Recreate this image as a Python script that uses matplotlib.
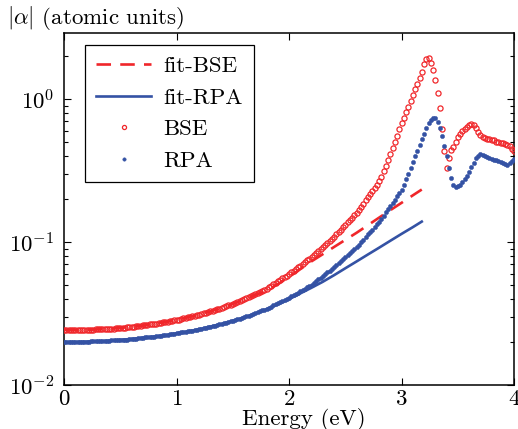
import numpy as np
import matplotlib
matplotlib.use("Agg")
import matplotlib.pyplot as plt

plt.rcParams['font.family'] = ['cmr10', 'DejaVu Serif']
plt.rcParams['mathtext.fontset'] = 'cm'
plt.rcParams['axes.formatter.use_mathtext'] = True

# sampling grid of the computed spectra (0.02 eV steps, 0..4 eV)
energy = np.linspace(0.0, 4.0, 201)

bse = [
    0.0242, 0.0242, 0.0242, 0.0242, 0.0242, 0.0242, 0.0243, 0.0243, 0.0243, 0.0243,
    0.0243, 0.0243, 0.0244, 0.0244, 0.0245, 0.0245, 0.0245, 0.0246, 0.0246, 0.0247,
    0.0247, 0.0248, 0.0248, 0.0249, 0.0250, 0.0251, 0.0252, 0.0252, 0.0253, 0.0254,
    0.0255, 0.0256, 0.0257, 0.0259, 0.0260, 0.0261, 0.0262, 0.0263, 0.0265, 0.0266,
    0.0267, 0.0269, 0.0271, 0.0272, 0.0274, 0.0276, 0.0278, 0.0280, 0.0282, 0.0283,
    0.0285, 0.0287, 0.0290, 0.0292, 0.0295, 0.0297, 0.0300, 0.0302, 0.0305, 0.0307,
    0.0310, 0.0313, 0.0317, 0.0320, 0.0324, 0.0327, 0.0331, 0.0334, 0.0338, 0.0341,
    0.0345, 0.0350, 0.0355, 0.0360, 0.0365, 0.0370, 0.0376, 0.0381, 0.0387, 0.0392,
    0.0398, 0.0405, 0.0412, 0.0419, 0.0426, 0.0434, 0.0441, 0.0449, 0.0457, 0.0465,
    0.0473, 0.0484, 0.0495, 0.0507, 0.0519, 0.0531, 0.0543, 0.0556, 0.0569, 0.0582,
    0.0596, 0.0613, 0.0630, 0.0647, 0.0665, 0.0684, 0.0703, 0.0723, 0.0743, 0.0764,
    0.0785, 0.0811, 0.0838, 0.0866, 0.0894, 0.0924, 0.0954, 0.0986, 0.1018, 0.1052,
    0.108, 0.113, 0.117, 0.122, 0.127, 0.132, 0.137, 0.143, 0.148, 0.154,
    0.160, 0.168, 0.177, 0.186, 0.196, 0.206, 0.217, 0.228, 0.240, 0.252,
    0.266, 0.285, 0.313, 0.343, 0.376, 0.412, 0.452, 0.501, 0.556, 0.614,
    0.676, 0.741, 0.81, 0.88, 0.975, 1.066, 1.17, 1.28, 1.40, 1.55,
    1.76, 1.90, 1.94, 1.80, 1.60, 1.37, 1.11, 0.86, 0.62, 0.43,
    0.33, 0.39, 0.44, 0.465, 0.50, 0.54, 0.57, 0.595, 0.62, 0.64,
    0.655, 0.67, 0.66, 0.63, 0.59, 0.56, 0.545, 0.535, 0.53, 0.525,
    0.52, 0.515, 0.505, 0.50, 0.495, 0.49, 0.485, 0.48, 0.47, 0.45,
    0.43,
]

rpa = [
    0.0200, 0.0200, 0.0200, 0.0200, 0.0200, 0.0200, 0.0201, 0.0201, 0.0201, 0.0201,
    0.0201, 0.0201, 0.0202, 0.0202, 0.0202, 0.0203, 0.0203, 0.0203, 0.0204, 0.0204,
    0.0204, 0.0205, 0.0205, 0.0206, 0.0206, 0.0207, 0.0207, 0.0208, 0.0208, 0.0209,
    0.0210, 0.0211, 0.0211, 0.0212, 0.0213, 0.0214, 0.0215, 0.0215, 0.0216, 0.0217,
    0.0218, 0.0219, 0.0220, 0.0221, 0.0223, 0.0224, 0.0225, 0.0226, 0.0227, 0.0229,
    0.0230, 0.0231, 0.0233, 0.0234, 0.0236, 0.0237, 0.0239, 0.0240, 0.0242, 0.0244,
    0.0245, 0.0247, 0.0249, 0.0252, 0.0254, 0.0256, 0.0258, 0.0260, 0.0263, 0.0265,
    0.0267, 0.0270, 0.0273, 0.0276, 0.0279, 0.0282, 0.0285, 0.0288, 0.0291, 0.0295,
    0.0298, 0.0302, 0.0306, 0.0310, 0.0315, 0.0319, 0.0324, 0.0328, 0.0333, 0.0337,
    0.0342, 0.0348, 0.0354, 0.0360, 0.0367, 0.0373, 0.0380, 0.0386, 0.0393, 0.0400,
    0.0407, 0.0416, 0.0425, 0.0434, 0.0443, 0.0453, 0.0462, 0.0472, 0.0482, 0.0493,
    0.0504, 0.0518, 0.0533, 0.0549, 0.0564, 0.0581, 0.0597, 0.0614, 0.0632, 0.0650,
    0.0668, 0.0690, 0.0713, 0.0737, 0.0761, 0.0786, 0.0812, 0.0839, 0.0866, 0.0895,
    0.0923, 0.0961, 0.100, 0.104, 0.108, 0.113, 0.118, 0.122, 0.127, 0.133,
    0.138, 0.145, 0.153, 0.161, 0.170, 0.179, 0.188, 0.198, 0.209, 0.220,
    0.232, 0.251, 0.275, 0.30, 0.33, 0.363, 0.40, 0.435, 0.48, 0.525,
    0.57, 0.625, 0.675, 0.715, 0.738, 0.733, 0.69, 0.625, 0.556, 0.473,
    0.40, 0.33, 0.28, 0.25, 0.242, 0.245, 0.251, 0.261, 0.274, 0.29,
    0.311, 0.335, 0.359, 0.385, 0.403, 0.41, 0.409, 0.403, 0.394, 0.385,
    0.38, 0.376, 0.372, 0.367, 0.361, 0.355, 0.351, 0.348, 0.355, 0.367,
    0.38,
]

fit_energy = [0.0, 0.1, 0.2, 0.3, 0.4, 0.5, 0.6, 0.7, 0.8, 0.9, 1.0, 1.1, 1.2, 1.3,
              1.4, 1.5, 1.6, 1.7, 1.8, 1.9, 2.0, 2.1, 2.2, 2.3, 2.4, 2.5, 2.6, 2.7,
              2.8, 2.9, 3.0, 3.1, 3.18]
fit_bse = [0.0242, 0.0242, 0.0243, 0.0245, 0.0247, 0.0251, 0.0255, 0.0260, 0.0267,
           0.0275, 0.0285, 0.0297, 0.0310, 0.0327, 0.0345, 0.0368, 0.0396, 0.0427,
           0.0457, 0.0507, 0.0569, 0.0646, 0.0733, 0.0822, 0.0923, 0.1035, 0.116,
           0.131, 0.148, 0.167, 0.188, 0.212, 0.233]
fit_rpa = [0.0200, 0.0200, 0.0201, 0.0202, 0.0204, 0.0207, 0.0210, 0.0214, 0.0218,
           0.0223, 0.0230, 0.0237, 0.0245, 0.0256, 0.0267, 0.0281, 0.0297, 0.0316,
           0.0339, 0.0366, 0.0398, 0.0437, 0.0479, 0.0527, 0.0586, 0.0655, 0.0731,
           0.0817, 0.0912, 0.102, 0.114, 0.127, 0.139]

red = '#f0262a'
blue = '#3452a4'
fs = 16.5

fig = plt.figure(figsize=(5.18, 4.29), dpi=100)
ax = fig.add_axes([0.1236, 0.1026, 0.8687, 0.8205])

ax.plot(fit_energy, fit_bse, color=red, lw=1.9, ls=(0, (5.5, 3.5)), label='fit-BSE', zorder=3)
ax.plot(fit_energy, fit_rpa, color=blue, lw=1.9, ls='-', label='fit-RPA', zorder=3)
ax.plot(energy, bse, ls='none', marker='o', ms=3.7, mfc='none', mec=red, mew=0.9,
        label='BSE', zorder=4)
ax.plot(energy, rpa, ls='none', marker='o', ms=3.1, mfc=blue, mec=blue, mew=0.3,
        label='RPA', zorder=4)

ax.set_yscale('log')
ax.set_xlim(0, 4)
ax.set_ylim(0.01, 2.9)
ax.set_xticks([0, 1, 2, 3, 4])
ax.set_yticks([0.01, 0.1, 1])

ax.tick_params(axis='both', which='both', direction='in', top=True, right=True,
               labelsize=fs, width=0.8)
ax.tick_params(axis='x', which='major', length=5, pad=3)
ax.tick_params(axis='y', which='major', length=5, pad=7)
ax.tick_params(axis='both', which='minor', length=3)
for s in ax.spines.values():
    s.set_linewidth(1.1)

ax.set_xlabel('Energy (eV)', fontsize=fs)
ax.xaxis.set_label_coords(0.533, -0.064)
fig.text(0.014, 0.958, r'$|\alpha|$ (atomic units)', fontsize=fs, ha='left', va='center')

leg = ax.legend(loc='upper left', bbox_to_anchor=(0.0467, 0.966), fontsize=fs,
                frameon=True, fancybox=False, edgecolor='black', framealpha=1,
                handlelength=2.4, labelspacing=0.5, borderpad=0.5,
                handletextpad=0.5, borderaxespad=0.0, markerscale=0.8)
leg.get_frame().set_linewidth(0.9)

fig.savefig('out.png', dpi=100)
